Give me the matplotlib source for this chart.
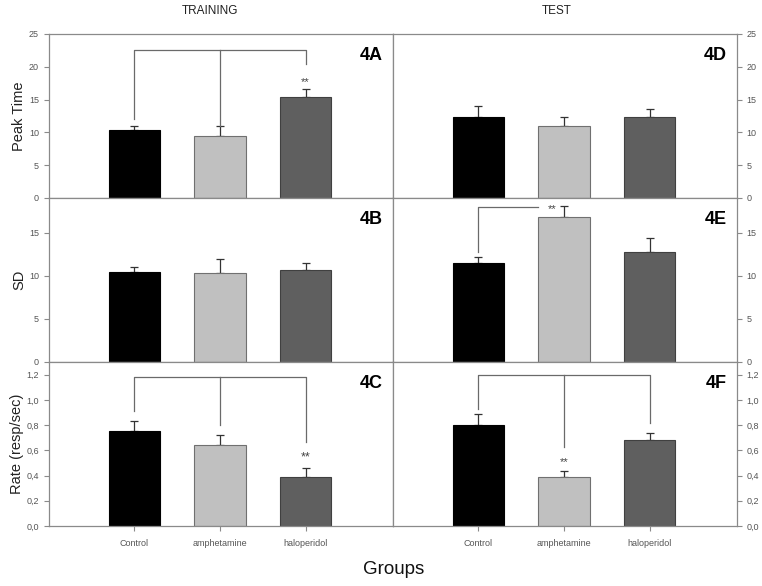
import numpy as np
import matplotlib.pyplot as plt
from matplotlib.ticker import FuncFormatter

plt.rcParams['font.family'] = ['Liberation Sans', 'DejaVu Sans']

groups = ['Control', 'amphetamine', 'haloperidol']
colors = ['#000000', '#c0c0c0', '#5f5f5f']

# training (left column)
peak_train = [10.4, 9.5, 15.4]
peak_train_err = [0.65, 1.4, 1.2]
sd_train = [10.4, 10.3, 10.6]
sd_train_err = [0.6, 1.6, 0.9]
rate_train = [0.755, 0.645, 0.392]
rate_train_err = [0.075, 0.075, 0.067]

# test (right column)
peak_test = [12.4, 10.9, 12.4]
peak_test_err = [1.6, 1.4, 1.1]
sd_test = [11.5, 16.8, 12.7]
sd_test_err = [0.7, 1.3, 1.7]
rate_test = [0.797, 0.392, 0.681]
rate_test_err = [0.093, 0.043, 0.056]

ylabels = ['Peak Time', 'SD', 'Rate (resp/sec)']
ylims = [25, 19, 1.3]
yticks = [np.arange(0, 26, 5), np.arange(0, 16, 5), np.arange(0, 1.21, 0.2)]
panel_names = [['4A', '4D'], ['4B', '4E'], ['4C', '4F']]

data = [[(peak_train, peak_train_err), (peak_test, peak_test_err)],
        [(sd_train, sd_train_err), (sd_test, sd_test_err)],
        [(rate_train, rate_train_err), (rate_test, rate_test_err)]]

x = np.arange(1, 4)
spine_col = '#8a8a8a'
tick_col = '#555555'
line_col = '#6a6a6a'

fig, axes = plt.subplots(3, 2, figsize=(7.62, 5.86), dpi=100)
fig.subplots_adjust(left=0.064, right=0.967, top=0.942, bottom=0.1024,
                    wspace=0, hspace=0)

comma = FuncFormatter(lambda v, p: f'{v:.1f}'.replace('.', ','))

for r in range(3):
    for c in range(2):
        ax = axes[r, c]
        vals, errs = data[r][c]
        ax.bar(x, vals, width=0.6, color=colors, edgecolor=['#000000', '#707070', '#404040'],
               linewidth=0.8, zorder=2)
        ax.errorbar(x, vals, yerr=[np.zeros(3), errs], fmt='none', ecolor='#333333',
                    elinewidth=0.9, capsize=3, capthick=0.9, zorder=1)
        ax.set_xlim(0, 4.02)
        ax.set_ylim(0, ylims[r])
        ax.set_yticks(yticks[r])
        ax.set_xticks(x)
        for s in ax.spines.values():
            s.set_color(spine_col)
            s.set_linewidth(0.9)
        ax.tick_params(colors=spine_col, labelcolor=tick_col, labelsize=6.5,
                       length=3.5, width=0.8, direction='out')
        ax.tick_params(axis='x', pad=6)
        if r == 2:
            ax.set_xticklabels(groups, fontsize=6.5)
        else:
            ax.set_xticklabels([])
        if c == 1:
            ax.yaxis.tick_right()
        else:
            ax.set_ylabel(ylabels[r], fontsize=10.5, color='#222222', labelpad=2)
        if r == 2:
            ax.yaxis.set_major_formatter(comma)
        ax.text(0.97, 0.87, panel_names[r][c], transform=ax.transAxes,
                ha='right', va='center', fontsize=13, fontweight='bold')

# significance brackets
ax = axes[0, 0]
ax.plot([1, 1, 3, 3], [12.0, 22.6, 22.6, 20.4], color=line_col, lw=0.9)
ax.plot([2, 2], [22.6, 11.0], color=line_col, lw=0.9)
ax.text(3, 17.6, '**', ha='center', va='center', fontsize=8, color='#444444')

ax = axes[1, 1]
ax.plot([1, 1, 1.7], [12.7, 17.9, 17.9], color=line_col, lw=0.9)
ax.text(1.86, 17.7, '**', ha='center', va='center', fontsize=8, color='#444444')

ax = axes[2, 0]
ax.plot([1, 1, 3, 3], [0.91, 1.18, 1.18, 0.665], color=line_col, lw=0.9)
ax.plot([2, 2], [1.18, 0.80], color=line_col, lw=0.9)
ax.text(3, 0.54, '**', ha='center', va='center', fontsize=9, color='#444444')

ax = axes[2, 1]
ax.plot([1, 1, 3, 3], [0.93, 1.2, 1.2, 0.82], color=line_col, lw=0.9)
ax.plot([2, 2], [1.2, 0.63], color=line_col, lw=0.9)
ax.text(2, 0.51, '**', ha='center', va='center', fontsize=8, color='#444444')

fig.text(0.276, 0.982, 'TRAINING', ha='center', va='center', fontsize=8.5, color='#222222')
fig.text(0.731, 0.982, 'TEST', ha='center', va='center', fontsize=8.5, color='#222222')
fig.text(0.517, 0.028, 'Groups', ha='center', va='center', fontsize=13.5, color='#111111')

fig.savefig('out.png', dpi=100)
